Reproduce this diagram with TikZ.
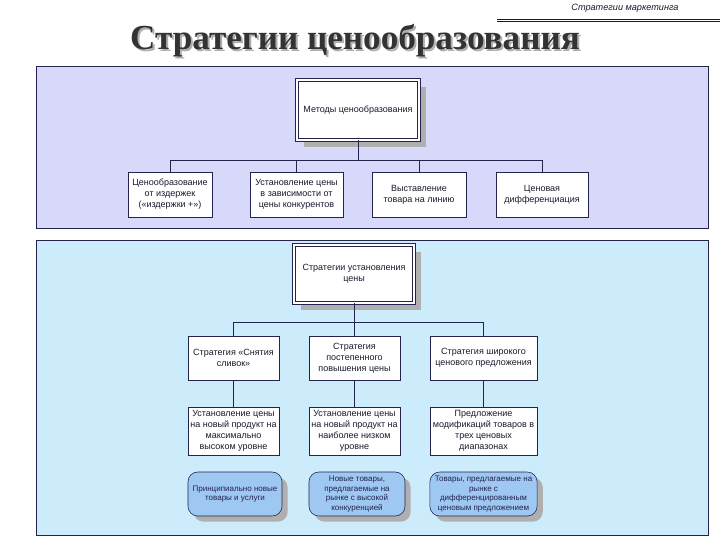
\documentclass[tikz,border=0pt]{standalone}
\usepackage{fontspec}
\setmainfont{Liberation Sans}
\newfontfamily\titlefont{Liberation Serif}
\usepackage{tikz}
\usetikzlibrary{shadows}
\definecolor{frameblue}{RGB}{35, 35, 75}
\definecolor{lavenderpanel}{RGB}{216, 216, 250}
\definecolor{cyanpanel}{RGB}{204, 236, 252}
\definecolor{goalblue}{RGB}{158, 200, 242}
\definecolor{shadowgray}{RGB}{175, 175, 175}
\definecolor{darktext}{RGB}{25, 25, 45}

\begin{document}
\begin{tikzpicture}[x=0.025cm, y=-0.025cm,
  box/.style={draw=frameblue, fill=white, align=center, inner sep=1pt,
    text=darktext, font=\fontsize{6.4}{7.8}\selectfont},
  headbox/.style={box, line width=0.5pt, double=white, double distance=1.2pt,
    drop shadow={shadow xshift=5pt, shadow yshift=-5pt, fill=shadowgray, opacity=1}},
  goalbox/.style={box, fill=goalblue, rounded corners=7pt, text=frameblue,
    font=\fontsize{5.7}{7}\selectfont,
    drop shadow={shadow xshift=4pt, shadow yshift=-4pt, fill=shadowgray, opacity=1}}]
  \useasboundingbox (0,0) rectangle (720,540);
  \fill[white] (0,0) rectangle (720,540);

  % header and title
  \node[font=\fontsize{6.5}{7}\selectfont\itshape, text=darktext] (hdr) at (625,8) {Стратегии маркетинга};
  \draw[darktext, line width=1pt] (497,19.5) -- (720,19.5);
  \draw[darktext, line width=0.4pt] (497,21.5) -- (720,21.5);
  \node[font=\titlefont\bfseries\fontsize{25}{28}\selectfont, text=shadowgray] at (357,43) {Стратегии ценообразования};
  \node[font=\titlefont\bfseries\fontsize{25}{28}\selectfont, text=black!80] (title) at (355,41) {Стратегии ценообразования};

  % panels
  \draw[frameblue, fill=lavenderpanel] (36,66) rectangle (708,228);
  \draw[frameblue, fill=cyanpanel] (36,240) rectangle (708,535);

  % methods
  \node[headbox, minimum width=3.05cm, minimum height=1.5cm] (meth) at (358,110) {Методы ценообразования};
  \node[box, minimum width=2.1cm, minimum height=1.13cm] (m1) at (170,194.5)
    {Ценообразование\\от издержек\\(«издержки +»)};
  \node[box, minimum width=2.33cm, minimum height=1.13cm] (m2) at (296.5,194.5)
    {Установление цены\\в зависимости от\\цены конкурентов};
  \node[box, minimum width=2.35cm, minimum height=1.13cm] (m3) at (419,194.5)
    {Выставление\\товара на линию};
  \node[box, minimum width=2.3cm, minimum height=1.13cm] (m4) at (542,194.5)
    {Ценовая\\дифференциация};
  \foreach \b in {m1,m2,m3,m4}
    \draw[frameblue] (meth.south) -- ++(0,20) -| (\b.north);

  % strategies
  \node[headbox, minimum width=3cm, minimum height=1.45cm] (strat) at (354,274)
    {Стратегии установления\\цены};
  \node[box, minimum width=2.28cm, minimum height=1.1cm] (s1) at (233.5,358)
    {Стратегия «Снятия\\сливок»};
  \node[box, minimum width=2.28cm, minimum height=1.1cm] (s2) at (354.5,358)
    {Стратегия\\постепенного\\повышения цены};
  \node[box, minimum width=2.68cm, minimum height=1.1cm] (s3) at (483.5,358)
    {Стратегия широкого\\ценового предложения};
  \foreach \b in {s1,s2,s3}
    \draw[frameblue] (strat.south) -- ++(0,19) -| (\b.north);

  \node[box, minimum width=2.28cm, minimum height=1.2cm] (p1) at (233.5,431)
    {Установление цены\\на новый продукт на\\максимально\\высоком уровне};
  \node[box, minimum width=2.28cm, minimum height=1.2cm] (p2) at (354.5,431)
    {Установление цены\\на новый продукт на\\наиболее низком\\уровне};
  \node[box, minimum width=2.68cm, minimum height=1.2cm] (p3) at (483.5,431)
    {Предложение\\модификаций товаров в\\трех ценовых\\диапазонах};
  \foreach \i in {1,2,3}
    \draw[frameblue] (s\i.south) -- (p\i.north);

  \node[goalbox, minimum width=2.35cm, minimum height=1.1cm] (g1) at (235,494)
    {Принципиально новые\\товары и услуги};
  \node[goalbox, minimum width=2.4cm, minimum height=1.1cm] (g2) at (357,494)
    {Новые товары,\\предлагаемые на\\рынке с высокой\\конкуренцией};
  \node[goalbox, minimum width=2.68cm, minimum height=1.1cm] (g3) at (483.5,494)
    {Товары, предлагаемые на\\рынке с\\дифференцированным\\ценовым предложением};
\end{tikzpicture}
\end{document}
